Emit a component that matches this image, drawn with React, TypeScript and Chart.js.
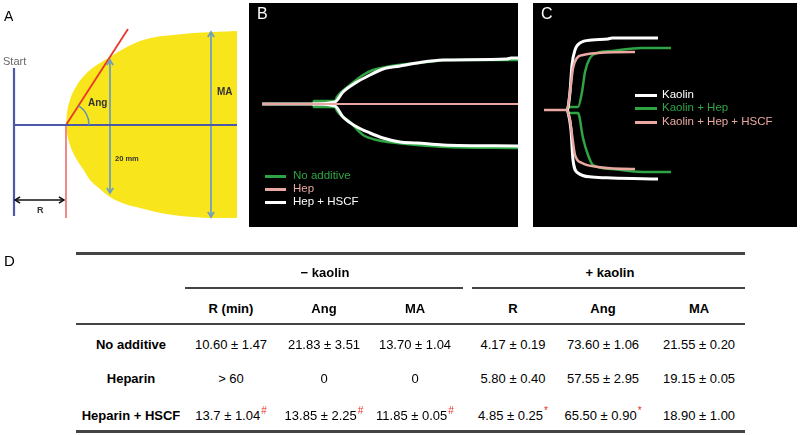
import React, { useEffect, useRef } from "react";
import { Chart, registerables } from "chart.js";

Chart.register(...registerables);

type Pair = [number, number];

// ---------- Panel A: TEG schematic ----------
const aEdgeX = [66, 67, 70, 77, 83, 90, 100, 110, 125, 140, 156, 173, 193, 213, 237];
const aEdgeUpper = [0, 12, 25, 40, 48, 55, 62, 68, 77, 84, 88, 90, 92, 93, 94];
const aEdgeLower = [0, -8, -20, -35, -44, -55, -64, -72, -79, -83, -87, -90, -92, -93, -93];
const aBaseline: Pair[] = [[14, 0], [237, 0]];
const aStartLine: Pair[] = [[14, 57], [14, -91]];
const aRLine: Pair[] = [[66, 0], [66, -93]];
const aAngLine: Pair[] = [[66, 0], [128, 96]];
const a20mm: Pair[] = [[110, 65], [110, -68]];
const aMA: Pair[] = [[211, 93], [211, -92]];
const aRArrow: Pair[] = [[15, -75], [64, -75]];

// ---------- Panel B: - kaolin tracings ----------
const bHep: Pair[] = [[13, 0], [269, 0]];
const bNoAddUpper: Pair[] = [[13, 0], [64, 0], [65, 3], [86, 3], [88, 7], [101, 19], [114, 29], [124, 34], [137, 37], [158, 40], [178, 42], [198, 44], [269, 44]];
const bNoAddLower: Pair[] = [[64, 0], [65, -3], [86, -3], [88, -7], [101, -18], [114, -31], [128, -36], [148, -39], [168, -41], [198, -43], [269, -44]];
const bHscfUpper: Pair[] = [[13, 0], [64, 0], [86, 2], [94, 12], [108, 22], [121, 29], [134, 35], [151, 38], [168, 41], [194, 44], [258, 45], [262, 46], [269, 46]];
const bHscfLower: Pair[] = [[64, 0], [86, -2], [94, -13], [108, -23], [121, -29], [134, -34], [151, -38], [168, -39], [194, -41], [269, -42]];

// ---------- Panel C: + kaolin tracings ----------
const cHscfUpper: Pair[] = [[11, 0], [34, 0], [37, 18], [40, 42], [44, 52], [50, 55], [65, 57], [99, 58], [102, 58]];
const cHscfLower: Pair[] = [[34, 0], [37, -10], [39, -25], [42, -45], [49, -53], [65, -57], [99, -59], [102, -59]];
const cKaolinUpper: Pair[] = [[34, 0], [35, 2], [37, 18], [39, 45], [42, 60], [47, 67], [59, 70], [75, 71], [79, 72], [125, 72]];
const cKaolinLower: Pair[] = [[34, 0], [35, -2], [38, -20], [40, -50], [45, -63], [59, -67], [79, -68], [125, -69]];
const cHepUpper: Pair[] = [[34, 0], [36, 3], [45, 3], [49, 18], [52, 38], [57, 52], [64, 57], [79, 59], [109, 62], [138, 62]];
const cHepLower: Pair[] = [[34, 0], [36, -3], [45, -3], [50, -28], [55, -45], [60, -55], [79, -59], [109, -62], [138, -62]];

// ---------- Panel D: table ----------
const groupLabels = ["\u2212 kaolin", "+ kaolin"];
const colHeaders = ["R (min)", "Ang", "MA", "R", "Ang", "MA"];
const rowLabels = ["No additive", "Heparin", "Heparin + HSCF"];
const rowNoAdditive = ["10.60 \u00b1 1.47", "21.83 \u00b1 3.51", "13.70 \u00b1 1.04", "4.17 \u00b1 0.19", "73.60 \u00b1 1.06", "21.55 \u00b1 0.20"];
const rowHeparin = ["> 60", "0", "0", "5.80 \u00b1 0.40", "57.55 \u00b1 2.95", "19.15 \u00b1 0.05"];
const rowHeparinHscf = ["13.7 \u00b1 1.04", "13.85 \u00b1 2.25", "11.85 \u00b1 0.05", "4.85 \u00b1 0.25", "65.50 \u00b1 0.90", "18.90 \u00b1 1.00"];
const rowHeparinHscfMarks = ["#", "#", "#", "*", "*", ""];

const GREEN = "#2fa444";
const PINK = "#e9a8a1";
const WHITE = "#ffffff";

const pts = (a: Pair[]) => a.map(([x, y]) => ({ x, y }));

const line = (data: Pair[], color: string, width: number, extra: any = {}) => ({
  data: pts(data),
  borderColor: color,
  backgroundColor: color,
  borderWidth: width,
  pointRadius: 0,
  fill: false,
  tension: 0,
  borderCapStyle: "butt",
  ...extra,
});

const arrowPlugin = {
  id: "arrowHeads",
  afterDatasetsDraw(chart: any) {
    const ctx = chart.ctx;
    chart.data.datasets.forEach((ds: any, i: number) => {
      if (!ds.arrow) return;
      const p = chart.getDatasetMeta(i).data;
      if (p.length < 2) return;
      const ends = [[p[0], p[1]], [p[p.length - 1], p[p.length - 2]]];
      ctx.save();
      ctx.strokeStyle = ds.borderColor;
      ctx.lineWidth = ds.borderWidth;
      ctx.lineJoin = "miter";
      for (const [tip, prev] of ends) {
        const ang = Math.atan2(tip.y - prev.y, tip.x - prev.x);
        const L = 6;
        ctx.beginPath();
        ctx.moveTo(tip.x - L * Math.cos(ang - 0.55), tip.y - L * Math.sin(ang - 0.55));
        ctx.lineTo(tip.x, tip.y);
        ctx.lineTo(tip.x - L * Math.cos(ang + 0.55), tip.y - L * Math.sin(ang + 0.55));
        ctx.stroke();
      }
      ctx.restore();
    });
  },
};

const angArcPlugin = {
  id: "angArc",
  afterDatasetsDraw(chart: any) {
    const ctx = chart.ctx;
    chart.data.datasets.forEach((ds: any, i: number) => {
      if (!ds.angArc) return;
      const p = chart.getDatasetMeta(i).data;
      const a = Math.atan2(p[1].y - p[0].y, p[1].x - p[0].x);
      ctx.save();
      ctx.strokeStyle = "#5f93b4";
      ctx.lineWidth = 1.5;
      ctx.beginPath();
      ctx.arc(p[0].x, p[0].y, 23, a, 0);
      ctx.stroke();
      ctx.restore();
    });
  },
};

const blackBg = {
  id: "blackBg",
  beforeDraw(chart: any) {
    const ctx = chart.ctx;
    ctx.save();
    ctx.fillStyle = "#000";
    ctx.fillRect(0, 0, chart.width, chart.height);
    ctx.restore();
  },
};

const baseOptions = (xmin: number, xmax: number, ymin: number, ymax: number) => ({
  responsive: false,
  maintainAspectRatio: false,
  animation: false,
  events: [],
  layout: { padding: 0 },
  plugins: {
    legend: { display: false },
    tooltip: { enabled: false },
    filler: { drawTime: "beforeDatasetsDraw" },
  },
  scales: {
    x: { type: "linear", display: false, min: xmin, max: xmax },
    y: { type: "linear", display: false, min: ymin, max: ymax },
  },
});

const makeA = () => ({
  type: "line",
  data: {
    datasets: [
      line(aBaseline, "#4c59a8", 2.2),
      line(aStartLine, "#4c59a8", 2.2),
      line(aAngLine, "#e8382b", 1.8, { angArc: true }),
      line(aRLine, "#f07d7d", 1.8),
      line(a20mm, "#6f9fbf", 1.8, { arrow: true }),
      line(aMA, "#6f9fbf", 1.8, { arrow: true }),
      line(aRArrow, "#111111", 1.5, { arrow: true }),
      {
        data: aEdgeX.map((x, i) => ({ x, y: aEdgeUpper[i] })),
        borderWidth: 0,
        borderColor: "rgba(0,0,0,0)",
        backgroundColor: "#f8e51b",
        pointRadius: 0,
        fill: "+1",
        cubicInterpolationMode: "monotone",
        order: 10,
      },
      {
        data: aEdgeX.map((x, i) => ({ x, y: aEdgeLower[i] })),
        borderWidth: 0,
        borderColor: "rgba(0,0,0,0)",
        pointRadius: 0,
        fill: false,
        cubicInterpolationMode: "monotone",
        order: 10,
      },
    ],
  },
  options: baseOptions(0, 249, -105, 125),
  plugins: [arrowPlugin, angArcPlugin],
});

const mono = { cubicInterpolationMode: "monotone" };

const makeB = () => ({
  type: "line",
  data: {
    datasets: [
      line(bHep, PINK, 2.2),
      line(bHscfUpper, WHITE, 3, mono),
      line(bHscfLower, WHITE, 3, mono),
      line(bNoAddUpper, GREEN, 2.5, mono),
      line(bNoAddLower, GREEN, 2.5, mono),
    ],
  },
  options: baseOptions(0, 269, -123, 101),
  plugins: [blackBg],
});

const makeC = () => ({
  type: "line",
  data: {
    datasets: [
      line(cHscfUpper, PINK, 2.6, mono),
      line(cHscfLower, PINK, 2.6, mono),
      line(cKaolinUpper, WHITE, 3, mono),
      line(cKaolinLower, WHITE, 3, mono),
      line(cHepUpper, GREEN, 2.5, mono),
      line(cHepLower, GREEN, 2.5, mono),
    ],
  },
  options: baseOptions(0, 264, -117, 107),
  plugins: [blackBg],
});

function ChartCanvas({ left, top, width, height, make }: any) {
  const ref = useRef<HTMLCanvasElement>(null);
  useEffect(() => {
    const chart = new Chart(ref.current as HTMLCanvasElement, make() as any);
    return () => chart.destroy();
  }, []);
  return (
    <canvas
      ref={ref}
      width={width}
      height={height}
      style={{ position: "absolute", left, top, width, height }}
    />
  );
}

function T({ x, y, s, b, c = "#000", align = "left", children }: any) {
  const tx = align === "center" ? "-50%" : align === "right" ? "-100%" : "0";
  return (
    <div
      style={{
        position: "absolute",
        left: x,
        top: y,
        fontSize: s,
        fontWeight: b ? 700 : 400,
        color: c,
        lineHeight: 1,
        whiteSpace: "nowrap",
        transform: `translate(${tx},-50%)`,
      }}
    >
      {children}
    </div>
  );
}

function Rule({ x1, x2, y, h = 2, c = "#444" }: any) {
  return <div style={{ position: "absolute", left: x1, top: y, width: x2 - x1, height: h, background: c }} />;
}

function Swatch({ x, y, w, c }: any) {
  return <div style={{ position: "absolute", left: x, top: y - 1.5, width: w, height: 3, background: c }} />;
}

const colX = [231, 324, 415, 513, 603, 699];
const rowY = [344, 378, 415];

export default function App() {
  const rows = [rowNoAdditive, rowHeparin, rowHeparinHscf];
  return (
    <div
      style={{
        position: "fixed",
        left: 0,
        top: 0,
        width: 800,
        height: 435,
        background: "#fff",
        overflow: "hidden",
        fontFamily: '"Liberation Sans", Arial, sans-serif',
      }}
    >
      <ChartCanvas left={0} top={0} width={249} height={230} make={makeA} />
      <ChartCanvas left={249} top={3} width={269} height={224} make={makeB} />
      <ChartCanvas left={533} top={3} width={264} height={224} make={makeC} />

      {/* Panel A labels */}
      <T x={4} y={16} s={14}>A</T>
      <T x={3} y={61} s={11} c="#666">Start</T>
      <T x={88} y={102.5} s={10} b c="#333">Ang</T>
      <T x={217} y={91.5} s={10} b c="#333">MA</T>
      <T x={115} y={159} s={7.5} b c="#333">20 mm</T>
      <T x={37} y={210} s={9} b c="#333">R</T>

      {/* Panel B */}
      <T x={257} y={14} s={16} c="#fff">B</T>
      <Swatch x={265} y={176} w={21} c={GREEN} />
      <Swatch x={265} y={189} w={21} c={PINK} />
      <Swatch x={265} y={202} w={21} c={WHITE} />
      <T x={293} y={176} s={11.5} c={GREEN}>No additive</T>
      <T x={293} y={189} s={11.5} c={PINK}>Hep</T>
      <T x={293} y={202} s={11.5} c={WHITE}>Hep + HSCF</T>

      {/* Panel C */}
      <T x={541} y={14} s={16} c="#fff">C</T>
      <Swatch x={635} y={95} w={22} c={WHITE} />
      <Swatch x={635} y={108} w={22} c={GREEN} />
      <Swatch x={635} y={122} w={22} c={PINK} />
      <T x={662} y={95} s={11.5} c={WHITE}>Kaolin</T>
      <T x={662} y={108} s={11.5} c={GREEN}>Kaolin + Hep</T>
      <T x={662} y={122} s={11.5} c={PINK}>Kaolin + Hep + HSCF</T>

      {/* Panel D table */}
      <T x={4} y={260} s={15}>D</T>
      <Rule x1={76} x2={745} y={252} h={2.5} />
      <T x={325} y={272} s={13} b align="center">{groupLabels[0]}</T>
      <T x={610} y={272} s={13} b align="center">{groupLabels[1]}</T>
      <Rule x1={185} x2={463} y={287} h={1.6} />
      <Rule x1={472} x2={745} y={287} h={1.6} />
      {colHeaders.map((h, i) => (
        <T key={"h" + i} x={colX[i]} y={308} s={13} b align="center">{h}</T>
      ))}
      <Rule x1={76} x2={745} y={323} h={2.2} />
      {rowLabels.map((r, i) => (
        <T key={"r" + i} x={131} y={rowY[i]} s={13} b align="center">{r}</T>
      ))}
      {rows.map((row, ri) =>
        row.map((v, ci) => (
          <T key={ri + "-" + ci} x={colX[ci]} y={rowY[ri]} s={13} align="center">
            {v}
            {ri === 2 && rowHeparinHscfMarks[ci] ? (
              <span style={{ position: "relative", top: -6, fontSize: 10, color: "#e8312a", marginLeft: 1 }}>
                {rowHeparinHscfMarks[ci]}
              </span>
            ) : null}
          </T>
        ))
      )}
      <Rule x1={76} x2={745} y={430} h={3} />
    </div>
  );
}
